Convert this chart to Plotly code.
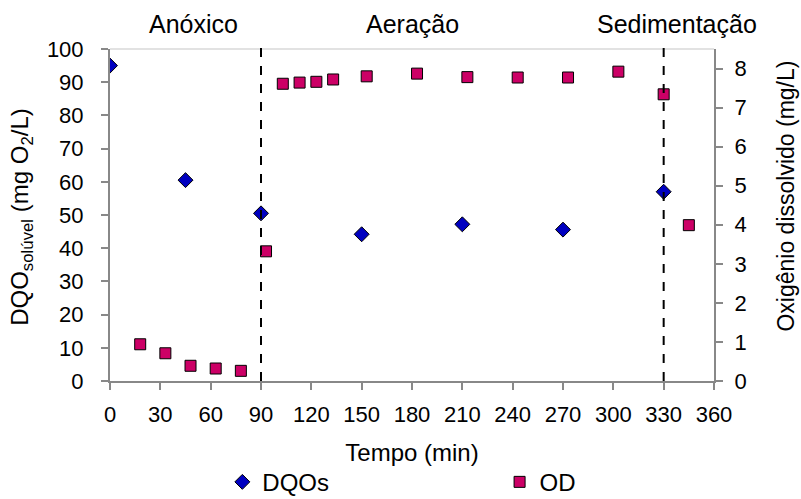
import plotly.graph_objects as go

dqo_t = [0, 45, 90, 150, 210, 270, 330]
dqo_v = [95.0, 60.5, 50.5, 44.2, 47.2, 45.6, 57.0]

od_t = [18, 33, 48, 63, 78, 93, 103, 113, 123, 133, 153, 183, 213, 243, 273, 303, 330, 345]
od_v = [0.94, 0.71, 0.39, 0.32, 0.26, 3.32, 7.61, 7.64, 7.66, 7.72, 7.80, 7.87, 7.78, 7.77, 7.77, 7.92, 7.34, 3.99]

phase_lines = [90, 330]
phase_labels = [(50, "Anóxico"), (180, "Aeração"), (338, "Sedimentação")]

FONT = "Liberation Sans"

fig = go.Figure()
fig.add_trace(go.Scatter(x=dqo_t, y=dqo_v, mode="markers", name="DQOs", legend="legend",
                         marker=dict(symbol="diamond", size=11.5, color="#0000C0",
                                     line=dict(color="black", width=1))))
fig.add_trace(go.Scatter(x=od_t, y=od_v, mode="markers", name="OD", yaxis="y2", legend="legend2",
                         marker=dict(symbol="square", size=11, color="#CC0066",
                                     line=dict(color="black", width=1))))

for xv in phase_lines:
    fig.add_shape(type="line", x0=xv, x1=xv, y0=0, y1=1.018, xref="x", yref="paper",
                  line=dict(color="black", width=2, dash="dash"))
fig.add_shape(type="line", x0=0, x1=1, y0=1, y1=1, xref="paper", yref="paper",
              line=dict(color="#d9d9d9", width=1.5), layer="below")

for xv, txt in phase_labels:
    fig.add_annotation(x=xv, y=1.075, xref="x", yref="paper", text=txt, showarrow=False,
                       font=dict(size=25, color="black", family=FONT), yanchor="middle")

# axis titles placed as in the reference
fig.add_annotation(x=-0.146, y=0.494, xref="paper", yref="paper",
                   text="DQO<sub>solúvel</sub> (mg O<sub>2</sub>/L)", textangle=-90,
                   showarrow=False, font=dict(size=24, color="black", family=FONT),
                   xanchor="center", yanchor="middle")
fig.add_annotation(x=1.12, y=0.557, xref="paper", yref="paper",
                   text="Oxigênio dissolvido (mg/L)", textangle=-90, showarrow=False,
                   font=dict(size=23, color="black", family=FONT),
                   xanchor="center", yanchor="middle")

axis_common = dict(showgrid=False, zeroline=False, showline=True, linecolor="#888888",
                   linewidth=2, ticks="outside", tickcolor="#888888", ticklen=7, tickwidth=1.5,
                   automargin=False,
                   tickfont=dict(size=22, color="black", family=FONT))

legend_common = dict(orientation="h", yanchor="middle", xanchor="left", y=-0.305,
                     font=dict(size=24, family=FONT, color="black"),
                     bgcolor="rgba(0,0,0,0)", itemwidth=30)

fig.update_layout(
    width=801, height=499,
    margin=dict(l=110, r=87, t=49, b=118, autoexpand=False),
    plot_bgcolor="white", paper_bgcolor="white",
    font=dict(family=FONT, color="black"),
    xaxis=dict(range=[0, 360], tickvals=list(range(0, 361, 30)), ticklabelstandoff=6,
               title=dict(text="Tempo (min)", font=dict(size=24, family=FONT), standoff=18),
               **axis_common),
    yaxis=dict(range=[0, 100], tickvals=list(range(0, 101, 10)), ticklabelstandoff=13,
               **axis_common),
    yaxis2=dict(range=[0, 8.5], tickvals=list(range(0, 9)), overlaying="y", side="right",
                ticklabelstandoff=7, **axis_common),
    legend=dict(x=0.186, **legend_common),
    legend2=dict(x=0.645, **legend_common),
    showlegend=True,
)

fig.write_html("out.html")
